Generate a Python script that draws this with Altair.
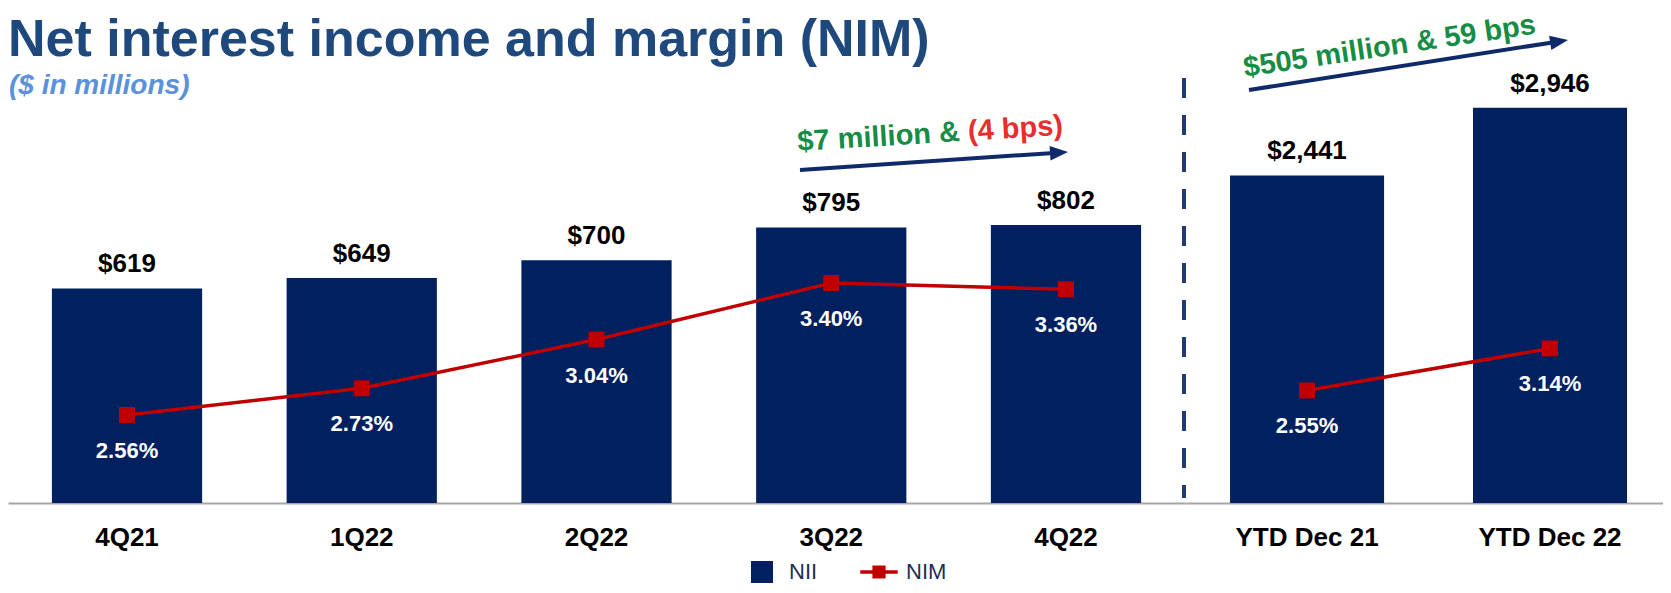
import math
import altair as alt
import pandas as pd

# ---------------- data ----------------
quarters = ["4Q21", "1Q22", "2Q22", "3Q22", "4Q22"]
nii_quarter = [619, 649, 700, 795, 802]
nim_quarter = [2.56, 2.73, 3.04, 3.40, 3.36]
ytd_periods = ["YTD Dec 21", "YTD Dec 22"]
nii_ytd = [2441, 2946]
nim_ytd = [2.55, 3.14]
series = ["NII", "NIM"]

title_text = "Net interest income and margin (NIM)"
subtitle_text = "($ in millions)"
qoq_green = "$7 million & "
qoq_red = "(4 bps)"
yoy_text = "$505 million & 59 bps"


def frame(periods, nii, nim):
    return pd.DataFrame({
        "period": periods,
        "nii": nii,
        "nim": nim,
        "idx": list(range(len(periods))),
        "nii_label": [f"${v:,}" for v in nii],
        "nim_label": [f"{v:.2f}%" for v in nim],
    })


df_q = frame(quarters, nii_quarter, nim_quarter)
df_y = frame(ytd_periods, nii_ytd, nim_ytd)
one = pd.DataFrame({"k": [0]})

FONT = "Liberation Sans"
NAVY = "#002060"
RED = "#C00000"
ARROW = "#10296A"
GREEN = "#168C45"
RED_TXT = "#E92C2C"

W, H = 1655, 495


def panel(df, order, x_range, p_in, p_out, align, nii_max, nim_dom):
    axis = alt.Axis(orient="bottom", title=None, labelFont=FONT, labelFontSize=26,
                    labelFontWeight="bold", labelColor="#000000", labelPadding=21,
                    ticks=False, tickSize=0, domain=True, domainColor="#A6A6A6",
                    domainWidth=2, labelAngle=0, grid=False)
    x = alt.X("period:N", sort=order, axis=axis,
              scale=alt.Scale(range=x_range, paddingInner=p_in, paddingOuter=p_out,
                              align=align))
    base = alt.Chart(df)
    y_bar = alt.Y("nii:Q", axis=None,
                  scale=alt.Scale(domain=[0, nii_max], nice=False, zero=True))
    bars = base.mark_bar(color=NAVY).encode(x=x, y=y_bar)
    vlab = base.mark_text(font=FONT, fontSize=26, fontWeight="bold", color="#000000",
                          dy=-16, baseline="alphabetic").encode(x=x, y=y_bar, text="nii_label:N")
    y_nim = alt.Y("nim:Q", axis=None,
                  scale=alt.Scale(domain=nim_dom, nice=False, zero=False))
    line = base.mark_line(color=RED, strokeWidth=3.5).encode(x=x, y=y_nim, order="idx:Q")
    pts = base.mark_point(shape="square", filled=True, size=256, color=RED,
                          opacity=1).encode(x=x, y=y_nim)
    plab = base.mark_text(font=FONT, fontSize=22, fontWeight="bold", color="#FFFFFF",
                          dy=43, baseline="alphabetic").encode(x=x, y=y_nim, text="nim_label:N")
    return alt.layer(alt.layer(bars, vlab), alt.layer(line, pts, plab)).resolve_scale(y="independent")


left = panel(df_q, quarters, [0, 1177], 0.36, 0.187, 0.5, 1428, [2.0, 5.15])
right = panel(df_y, ytd_periods, [1177, 1655], 0.366, 0.1667, 0.556, 3689, [0.97, 7.92])


def label(text, x, y, size, color, style="normal", angle=0):
    return alt.Chart(one).mark_text(
        text=text, font=FONT, fontSize=size, fontWeight="bold", fontStyle=style,
        color=color, angle=angle, align="left", baseline="alphabetic"
    ).encode(x=alt.value(x), y=alt.value(y))


def arrow(x0, y0, x1, y1, head=18):
    dx, dy = x1 - x0, y1 - y0
    L = math.hypot(dx, dy)
    ux, uy = dx / L, dy / L
    sx, sy = x1 - ux * (head - 4), y1 - uy * (head - 4)
    hx, hy = x1 - ux * head / 2, y1 - uy * head / 2
    ang = math.degrees(math.atan2(dy, dx)) % 360
    shaft = alt.Chart(one).mark_rule(color=ARROW, strokeWidth=4).encode(
        x=alt.value(x0), y=alt.value(y0), x2=alt.value(sx), y2=alt.value(sy))
    tip = alt.Chart(one).mark_point(shape="M1,0L-1,-0.8L-1,0.8Z", filled=True,
                                    size=head * head, color=ARROW, opacity=1,
                                    strokeWidth=0, angle=ang).encode(
        x=alt.value(hx), y=alt.value(hy))
    return [shaft, tip]


# annotation 1 (quarter on quarter)
a1 = 3.5
ax, ay = 790, 143
off = 5.891 * 29
red_x = ax + off * math.cos(math.radians(a1))
red_y = ay - off * math.sin(math.radians(a1))

texts = [
    label(title_text, 0, 48, 52, "#1F497D"),
    label(subtitle_text, 1, 86, 28, "#5A91DC", style="italic"),
    label(qoq_green, ax, ay, 29, GREEN, angle=360 - a1),
    label(qoq_red, red_x, red_y, 29, RED_TXT, angle=360 - a1),
    label(yoy_text, 1237, 69, 29, GREEN, angle=360 - 8.5),
]

arrows = arrow(792, 162, 1060, 144) + arrow(1241, 82, 1560, 32)

divider = alt.Chart(one).mark_rule(color="#1F3A75", strokeWidth=4, strokeDash=[20, 17]).encode(
    x=alt.value(1176), y=alt.value(70), y2=alt.value(490))

SQ = "M-1,-1H1V1H-1Z"
LINE_SQ = "M-1.7,-0.15H1.7V0.15H-1.7Z M-0.6,-0.6H0.6V0.6H-0.6Z"
legend_layer = alt.Chart(pd.DataFrame({"series": series})).mark_point(
    filled=True, opacity=0).encode(
    color=alt.Color("series:N", scale=alt.Scale(domain=series, range=[NAVY, RED]),
                    legend=alt.Legend(title=None)),
    shape=alt.Shape("series:N", scale=alt.Scale(domain=series, range=[SQ, LINE_SQ]),
                    legend=alt.Legend(title=None)),
)

chart = alt.layer(
    left, right, divider, *arrows, *texts, legend_layer
).resolve_scale(
    x="independent", y="independent"
).properties(
    width=W, height=H,
    padding={"left": 0, "right": 0, "top": 0, "bottom": 80},
    autosize=alt.AutoSizeParams(type="none"),
).configure_view(
    stroke=None
).configure_legend(
    orient="none", legendX=743, legendY=553, direction="horizontal",
    symbolSize=484, symbolStrokeWidth=0, symbolOpacity=1,
    labelFont=FONT, labelFontSize=22, labelColor="#1F2D50",
    labelOffset=16, columnPadding=42, padding=0,
)

chart.save("out.html", embed_options={"renderer": "svg", "actions": False})
